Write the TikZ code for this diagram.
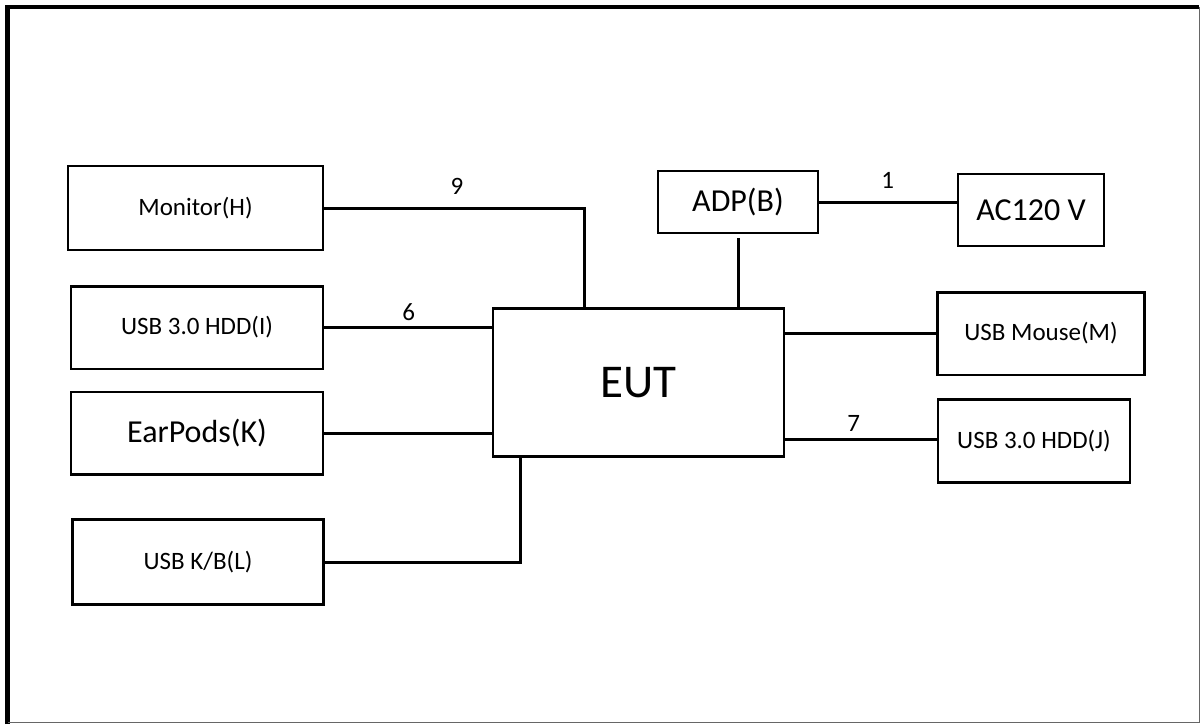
\documentclass[tikz,border=0pt]{standalone}
\usepackage{fontspec}
\setmainfont{Carlito}
\usetikzlibrary{calc}
\begin{document}
\begin{tikzpicture}[x=1pt,y=-1pt,
  blk/.style={draw=black,line width=2.7pt,rectangle,inner sep=0pt,fill=white},
  small/.style={font=\fontsize{25}{28}\selectfont},
  big/.style={font=\fontsize{32}{36}\selectfont},
  conn/.style={draw=black,line width=3pt},
  lbl/.style={font=\fontsize{25}{28}\selectfont,inner sep=0pt}]
\useasboundingbox (0,0) rectangle (1201,724);
% frame
\draw[line width=4.8pt,black] (7.5,724) -- (7.5,7) -- (1199,7);
\draw[line width=1.5pt,black!60] (1199.3,7) -- (1199.3,722.5) -- (7.5,722.5);
% boxes
\node[blk,small,minimum width=255pt,minimum height=84pt] (H) at (195.5,208) {Monitor(H)};
\node[blk,small,minimum width=252pt,minimum height=82.7pt] (I) at (197,327.5) {USB 3.0 HDD(I)};
\node[blk,big,minimum width=252pt,minimum height=82.3pt] (K) at (197,433) {EarPods(K)};
\node[blk,small,minimum width=251.5pt,minimum height=85pt] (L) at (198,562) {USB K/B(L)};
\node[blk,font=\fontsize{47}{52}\selectfont,minimum width=291pt,minimum height=148.4pt] (EUT) at (638.5,382.5) {EUT};
\node[blk,big,minimum width=160pt,minimum height=62pt] (ADP) at (738,202) {ADP(B)};
\node[blk,big,minimum width=146pt,minimum height=72pt] (AC) at (1031,210) {AC120 V};
\node[blk,small,minimum width=206.5pt,minimum height=82.7pt] (M) at (1041,333.5) {USB Mouse(M)};
\node[blk,small,minimum width=192pt,minimum height=83pt] (J) at (1034,440.8) {USB 3.0 HDD(J)};
% connectors
\draw[conn] (H.east) -| ([xshift=-54.5pt]EUT.north);
\draw[conn] (I.east) -- (I.east -| EUT.west);
\draw[conn] (K.east) -- (K.east -| EUT.west);
\draw[conn] (L.east) -| ([xshift=-118.5pt]EUT.south);
\draw[conn] (ADP.east) -- (ADP.east -| AC.west);
\draw[conn] ([yshift=-4pt]ADP.south) -- (ADP.south |- EUT.north);
\draw[conn] (M.west) -- (M.west -| EUT.east);
\draw[conn] ([yshift=1.5pt]J.west) -- ([yshift=1.5pt]J.west -| EUT.east);
% labels
\node[lbl] (n9) at (457,186) {9};
\node[lbl] (n6) at (408.6,311.7) {6};
\node[lbl] (n1) at (887.6,180) {1};
\node[lbl] (n7) at (853.6,423.3) {7};
\end{tikzpicture}
\end{document}
